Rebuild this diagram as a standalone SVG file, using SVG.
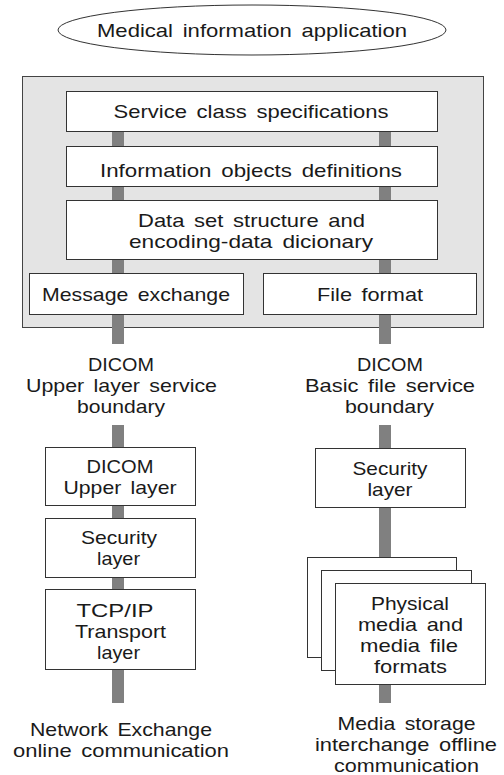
<svg xmlns="http://www.w3.org/2000/svg" width="504" height="775" viewBox="0 0 504 775">
<style>
text{font-family:"Liberation Sans",Arial,sans-serif;font-size:18.5px;fill:#1a1a1a;text-anchor:middle;word-spacing:3px}
.box{fill:#fff;stroke:#333;stroke-width:1}
.bar{fill:#808080}
</style>
<rect width="504" height="775" fill="#fff"/>
<g id="app">
<ellipse cx="252" cy="30" rx="194" ry="25" fill="#fff" stroke="#333" stroke-width="1"/>
<text x="252" y="37" textLength="310" lengthAdjust="spacingAndGlyphs">Medical information application</text>
</g>
<g id="dicom-panel">
<rect x="22.5" y="76.5" width="461" height="251" fill="#e4e4e4" stroke="#444" stroke-width="1"/>
</g>
<g id="connectors">
<rect class="bar" x="112" y="131" width="12" height="213"/>
<rect class="bar" x="379" y="131" width="12" height="213"/>
<rect class="bar" x="112" y="425" width="12" height="278"/>
<rect class="bar" x="379" y="425" width="12" height="278"/>
</g>
<g id="service-class">
<rect class="box" x="66.5" y="91.5" width="371" height="40"/>
<text x="251" y="118" textLength="275" lengthAdjust="spacingAndGlyphs">Service class specifications</text>
</g>
<g id="info-objects">
<rect class="box" x="66.5" y="146.5" width="371" height="40"/>
<text x="251" y="177" textLength="302" lengthAdjust="spacingAndGlyphs">Information objects definitions</text>
</g>
<g id="data-set">
<rect class="box" x="66.5" y="200.5" width="371" height="59"/>
<text x="251.5" y="227" textLength="227" lengthAdjust="spacingAndGlyphs">Data set structure and</text>
<text x="251" y="248" textLength="244" lengthAdjust="spacingAndGlyphs">encoding-data dicionary</text>
</g>
<g id="message-exchange">
<rect class="box" x="29.5" y="273.5" width="214" height="41"/>
<text x="136" y="301" textLength="188" lengthAdjust="spacingAndGlyphs">Message exchange</text>
</g>
<g id="file-format">
<rect class="box" x="263.5" y="273.5" width="213" height="41"/>
<text x="370" y="301" textLength="106" lengthAdjust="spacingAndGlyphs">File format</text>
</g>
<g id="upper-boundary">
<text x="121" y="371" textLength="66" lengthAdjust="spacingAndGlyphs">DICOM</text>
<text x="121.5" y="392" textLength="191" lengthAdjust="spacingAndGlyphs">Upper layer service</text>
<text x="121" y="413" textLength="88" lengthAdjust="spacingAndGlyphs">boundary</text>
</g>
<g id="file-boundary">
<text x="390" y="371" textLength="66" lengthAdjust="spacingAndGlyphs">DICOM</text>
<text x="390" y="392" textLength="170" lengthAdjust="spacingAndGlyphs">Basic file service</text>
<text x="389.5" y="413" textLength="89" lengthAdjust="spacingAndGlyphs">boundary</text>
</g>
<g id="dicom-upper-layer">
<rect class="box" x="45.5" y="447.5" width="150" height="58"/>
<text x="120" y="473" textLength="67" lengthAdjust="spacingAndGlyphs">DICOM</text>
<text x="120" y="494" textLength="113" lengthAdjust="spacingAndGlyphs">Upper layer</text>
</g>
<g id="security-left">
<rect class="box" x="45.5" y="518.5" width="150" height="59"/>
<text x="119" y="544" textLength="76" lengthAdjust="spacingAndGlyphs">Security</text>
<text x="118.5" y="565" textLength="43" lengthAdjust="spacingAndGlyphs">layer</text>
</g>
<g id="tcp-ip">
<rect class="box" x="45.5" y="589.5" width="150" height="80"/>
<text x="115" y="617" textLength="77" lengthAdjust="spacingAndGlyphs">TCP/IP</text>
<text x="120.5" y="638" textLength="91" lengthAdjust="spacingAndGlyphs">Transport</text>
<text x="118.5" y="659" textLength="43" lengthAdjust="spacingAndGlyphs">layer</text>
</g>
<g id="network-exchange">
<text x="121" y="736" textLength="182" lengthAdjust="spacingAndGlyphs">Network Exchange</text>
<text x="121" y="757" textLength="216" lengthAdjust="spacingAndGlyphs">online communication</text>
</g>
<g id="security-right">
<rect class="box" x="315.5" y="448.5" width="150" height="59"/>
<text x="390" y="475" textLength="75" lengthAdjust="spacingAndGlyphs">Security</text>
<text x="390" y="496" textLength="45" lengthAdjust="spacingAndGlyphs">layer</text>
</g>
<g id="physical-media">
<rect class="box" x="307.5" y="557.5" width="149" height="100"/>
<rect class="box" x="321.5" y="570.5" width="150" height="100"/>
<rect class="box" x="335.5" y="583.5" width="150" height="101"/>
<text x="410" y="610" textLength="78" lengthAdjust="spacingAndGlyphs">Physical</text>
<text x="410.5" y="631" textLength="105" lengthAdjust="spacingAndGlyphs">media and</text>
<text x="409" y="652" textLength="98" lengthAdjust="spacingAndGlyphs">media file</text>
<text x="410.5" y="673" textLength="73" lengthAdjust="spacingAndGlyphs">formats</text>
</g>
<g id="media-storage">
<text x="406.5" y="730" textLength="138" lengthAdjust="spacingAndGlyphs">Media storage</text>
<text x="406" y="751" textLength="182" lengthAdjust="spacingAndGlyphs">interchange offline</text>
<text x="406.5" y="772" textLength="145" lengthAdjust="spacingAndGlyphs">communication</text>
</g>
</svg>
